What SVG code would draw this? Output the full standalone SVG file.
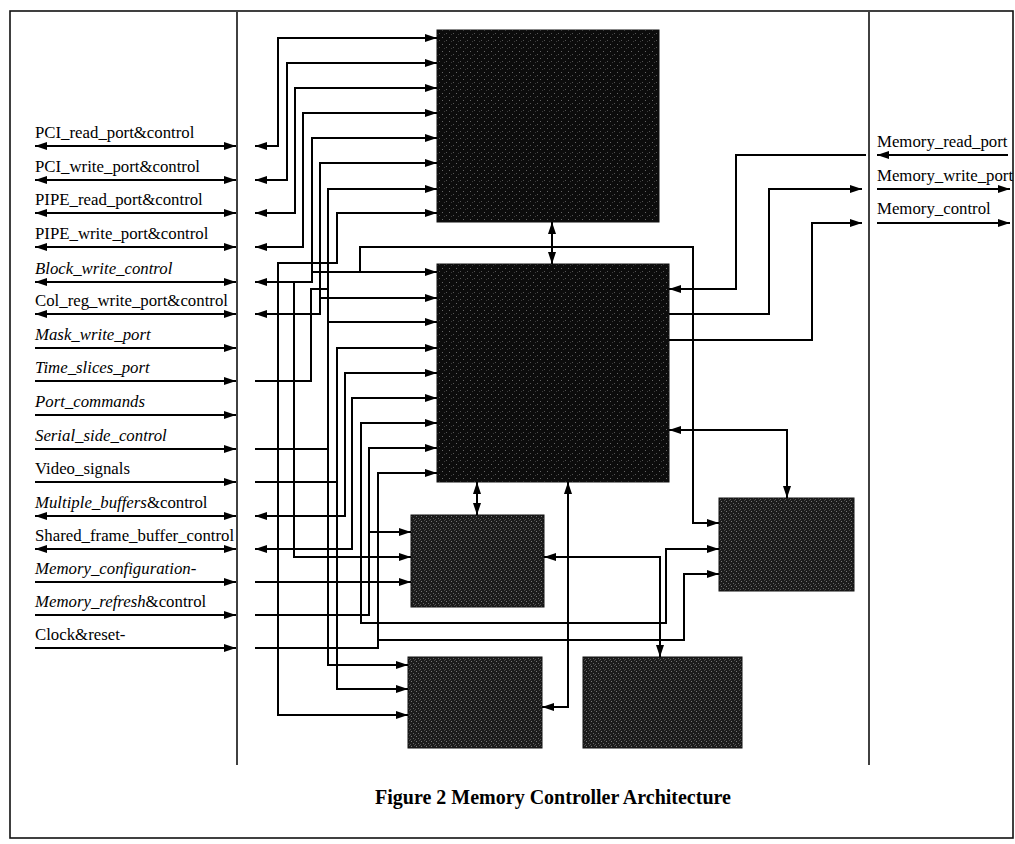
<svg xmlns="http://www.w3.org/2000/svg" width="1015" height="844" viewBox="0 0 1015 844">
<style>
.frame{fill:none;stroke:#111;stroke-width:1.6}
.ln{fill:none;stroke:#000;stroke-width:2}
.lbl{font-family:"Liberation Serif","Times New Roman",serif;font-size:16.8px;fill:#000}
.it{font-style:italic}
.cap{font-family:"Liberation Serif","Times New Roman",serif;font-size:20px;font-weight:bold;fill:#000}
.blkA{fill:url(#nzDark);stroke:#111;stroke-width:1}
.blkC{fill:url(#nzMid);stroke:#111;stroke-width:1}
</style>
<defs>
<marker id="ah" viewBox="0 0 12 8" refX="12" refY="4" markerWidth="12" markerHeight="8" markerUnits="userSpaceOnUse" orient="auto-start-reverse">
<path d="M0,0 L12,4 L0,8 z" fill="#000"/>
</marker>
<pattern id="nzDark" width="7" height="7" patternUnits="userSpaceOnUse">
<rect width="7" height="7" fill="#0c0c0c"/>
<rect x="1" y="2" width="1" height="1" fill="#666"/>
<rect x="5" y="5" width="1" height="1" fill="#555"/>
<rect x="3" y="6" width="1" height="1" fill="#3a3a3a"/>
</pattern>
<pattern id="nzMid" width="5" height="5" patternUnits="userSpaceOnUse">
<rect width="5" height="5" fill="#1c1c1c"/>
<rect x="1" y="1" width="1" height="1" fill="#777"/>
<rect x="3" y="3" width="1" height="1" fill="#666"/>
<rect x="4" y="0" width="1" height="1" fill="#4a4a4a"/>
<rect x="0" y="4" width="1" height="1" fill="#555"/>
</pattern>
</defs>
<rect width="1015" height="844" fill="#fff"/>
<g id="frame">
<rect class="frame" x="10" y="11" width="1003" height="827"/>
<line class="frame" x1="237" y1="12" x2="237" y2="765"/>
<line class="frame" x1="869" y1="12" x2="869" y2="765"/>
</g>
<g id="blockA"><rect class="blkA" x="437" y="30" width="222" height="192"/></g>
<g id="blockB"><rect class="blkA" x="437" y="264" width="232" height="218"/></g>
<g id="blockC"><rect class="blkC" x="411" y="515" width="133" height="92"/></g>
<g id="blockD"><rect class="blkC" x="408" y="657" width="134" height="91"/></g>
<g id="blockE"><rect class="blkC" x="719" y="498" width="135" height="93"/></g>
<g id="blockF"><rect class="blkC" x="583" y="657" width="159" height="91"/></g>
<g id="connectors" class="ln">
<path d="M35,146 H236" marker-start="url(#ah)" marker-end="url(#ah)"/>
<path d="M35,180 H236" marker-start="url(#ah)" marker-end="url(#ah)"/>
<path d="M35,213 H236" marker-start="url(#ah)" marker-end="url(#ah)"/>
<path d="M35,247 H236" marker-start="url(#ah)" marker-end="url(#ah)"/>
<path d="M35,282 H236" marker-start="url(#ah)" marker-end="url(#ah)"/>
<path d="M35,314 H236" marker-start="url(#ah)" marker-end="url(#ah)"/>
<path d="M35,348 H236" marker-end="url(#ah)"/>
<path d="M35,381 H236" marker-end="url(#ah)"/>
<path d="M35,415 H236" marker-end="url(#ah)"/>
<path d="M35,449 H236" marker-end="url(#ah)"/>
<path d="M35,482 H236" marker-end="url(#ah)"/>
<path d="M35,516 H236" marker-start="url(#ah)" marker-end="url(#ah)"/>
<path d="M35,549 H236" marker-start="url(#ah)" marker-end="url(#ah)"/>
<path d="M35,582 H236" marker-end="url(#ah)"/>
<path d="M35,615 H236" marker-end="url(#ah)"/>
<path d="M35,648 H236" marker-end="url(#ah)"/>
<path d="M437,38 H278 V146 H255" marker-start="url(#ah)" marker-end="url(#ah)"/>
<path d="M437,63 H287 V180 H255" marker-start="url(#ah)" marker-end="url(#ah)"/>
<path d="M437,88 H295 V213 H255" marker-start="url(#ah)" marker-end="url(#ah)"/>
<path d="M437,113 H303 V247 H255" marker-start="url(#ah)" marker-end="url(#ah)"/>
<path d="M437,138 H312 V282 H255" marker-start="url(#ah)" marker-end="url(#ah)"/>
<path d="M437,163 H320 V314 H255" marker-start="url(#ah)" marker-end="url(#ah)"/>
<path d="M437,189 H328 V665 H408" marker-start="url(#ah)" marker-end="url(#ah)"/>
<path d="M437,213 H337 V263 H278 V715 H408" marker-start="url(#ah)" marker-end="url(#ah)"/>
<path d="M312,272 H437" marker-end="url(#ah)"/>
<path d="M360,272 V247 H693 V523 H719" marker-end="url(#ah)"/>
<path d="M320,298 H437" marker-end="url(#ah)"/>
<path d="M328,322 H437" marker-end="url(#ah)"/>
<path d="M437,348 H337 V689 H408" marker-start="url(#ah)" marker-end="url(#ah)"/>
<path d="M437,373 H345 V516 H255" marker-start="url(#ah)" marker-end="url(#ah)"/>
<path d="M437,398 H352 V549 H255" marker-start="url(#ah)" marker-end="url(#ah)"/>
<path d="M437,423 H361 V623 H666 V549 H719" marker-start="url(#ah)" marker-end="url(#ah)"/>
<path d="M437,448 H369 V615 H255" marker-start="url(#ah)"/>
<path d="M437,473 H378 V648 H255" marker-start="url(#ah)"/>
<path d="M378,640 H684 V574 H719" marker-end="url(#ah)"/>
<path d="M255,381 H311 V289 H328"/>
<path d="M255,449 H328"/>
<path d="M255,482 H337"/>
<path d="M369,532 H411" marker-end="url(#ah)"/>
<path d="M294,282 V557 H411" marker-end="url(#ah)"/>
<path d="M255,582 H411" marker-end="url(#ah)"/>
<path d="M552,222 V264" marker-start="url(#ah)" marker-end="url(#ah)"/>
<path d="M477,482 V515" marker-start="url(#ah)" marker-end="url(#ah)"/>
<path d="M542,707 H568 V482" marker-start="url(#ah)" marker-end="url(#ah)"/>
<path d="M544,557 H660 V657" marker-start="url(#ah)" marker-end="url(#ah)"/>
<path d="M669,430 H787 V498" marker-start="url(#ah)" marker-end="url(#ah)"/>
<path d="M866,155 H736 V289 H669" marker-end="url(#ah)"/>
<path d="M669,314 H769 V189 H862" marker-end="url(#ah)"/>
<path d="M669,340 H812 V223 H862" marker-end="url(#ah)"/>
<path d="M1008,155 H877" marker-end="url(#ah)"/>
<path d="M877,189 H1010" marker-end="url(#ah)"/>
<path d="M877,223 H1010" marker-end="url(#ah)"/>
</g>
<g id="labels">
<text class="lbl" x="35" y="138">PCI_read_port&amp;control</text>
<text class="lbl" x="35" y="172">PCI_write_port&amp;control</text>
<text class="lbl" x="35" y="205">PIPE_read_port&amp;control</text>
<text class="lbl" x="35" y="239">PIPE_write_port&amp;control</text>
<text class="lbl it" x="35" y="274">Block_write_control</text>
<text class="lbl" x="35" y="306">Col_reg_write_port&amp;control</text>
<text class="lbl it" x="35" y="340">Mask_write_port</text>
<text class="lbl it" x="35" y="373">Time_slices_port</text>
<text class="lbl it" x="35" y="407">Port_commands</text>
<text class="lbl it" x="35" y="441">Serial_side_control</text>
<text class="lbl" x="35" y="474">Video_signals</text>
<text class="lbl" x="35" y="508"><tspan class="it">Multiple_buffers</tspan>&amp;control</text>
<text class="lbl" x="35" y="541">Shared_frame_buffer_control</text>
<text class="lbl it" x="35" y="574">Memory_configuration-</text>
<text class="lbl" x="35" y="607"><tspan class="it">Memory_refresh</tspan>&amp;control</text>
<text class="lbl" x="35" y="640">Clock&amp;reset-</text>
<text class="lbl" x="877" y="147">Memory_read_port</text>
<text class="lbl" x="877" y="181">Memory_write_port</text>
<text class="lbl" x="877" y="214">Memory_control</text>
<text class="cap" x="553" y="804" text-anchor="middle">Figure 2 Memory Controller Architecture</text>
</g>
</svg>
